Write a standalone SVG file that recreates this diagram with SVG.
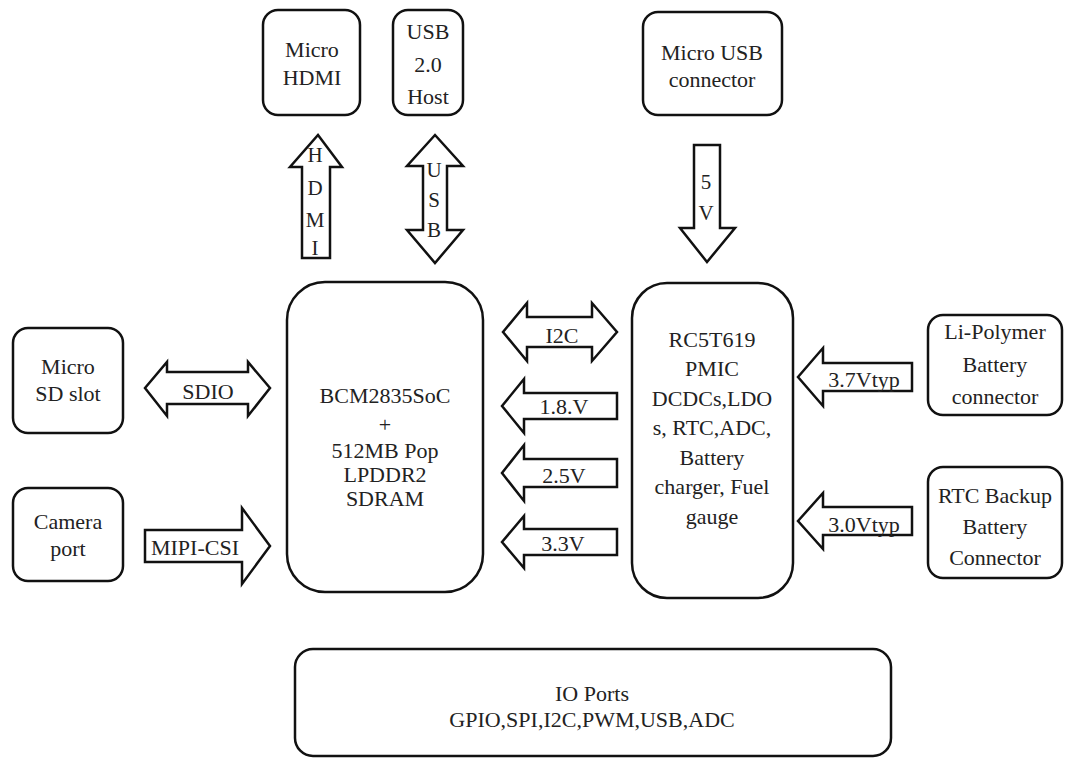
<svg xmlns="http://www.w3.org/2000/svg" width="1068" height="761" viewBox="0 0 1068 761">
<style>
.box{fill:#fff;stroke:#111;stroke-width:2.5}
.arrow{fill:#fff;stroke:#111;stroke-width:2.5;stroke-linejoin:miter}
.t{font-family:"Liberation Serif","Times New Roman",serif;font-size:22px;fill:#222;text-anchor:middle}
.s{font-size:21px}
</style>
<rect width="1068" height="761" fill="#fff"/>
<g id="connectors">
  <polygon class="arrow" points="318,135 342,167 330,167 330,258 302,258 302,167 290,167"/>
  <text class="t s" x="315" y="162">H</text>
  <text class="t s" x="315" y="195">D</text>
  <text class="t s" x="315" y="227">M</text>
  <text class="t s" x="315" y="255">I</text>
  <polygon class="arrow" points="435,135 463,166 447,166 447,230 463,230 435,263 407,230 423,230 423,166 407,166"/>
  <text class="t s" x="434" y="177">U</text>
  <text class="t s" x="434" y="207">S</text>
  <text class="t s" x="434" y="237">B</text>
  <polygon class="arrow" points="694,145 720,145 720,228 735,228 707,262 680,228 694,228"/>
  <text class="t s" x="706" y="189">5</text>
  <text class="t s" x="706" y="220">V</text>
  <polygon class="arrow" points="145,388 167,362 167,372 248,372 248,362 270,388 248,416 248,404 167,404 167,416"/>
  <text class="t" x="208" y="399">SDIO</text>
  <polygon class="arrow" points="145,530 242,530 242,508 270,546 242,584 242,562 145,562"/>
  <text class="t" x="195" y="555">MIPI-CSI</text>
  <polygon class="arrow" points="503,332 527,303 527,317 592,317 592,303 617,332 592,361 592,347 527,347 527,361"/>
  <text class="t" x="562" y="343">I2C</text>
  <polygon class="arrow" points="502,406 524,379 524,393 617,393 617,419 524,419 524,433"/>
  <text class="t" x="564" y="414">1.8.V</text>
  <polygon class="arrow" points="502,473 524,445 524,459 617,459 617,487 524,487 524,501"/>
  <text class="t" x="564" y="483">2.5V</text>
  <polygon class="arrow" points="502,542 524,516 524,529 617,529 617,555 524,555 524,568"/>
  <text class="t" x="563" y="551">3.3V</text>
  <polygon class="arrow" points="798,377 823,348 823,363 912,363 912,391 823,391 823,406"/>
  <text class="t" x="864" y="387">3.7Vtyp</text>
  <polygon class="arrow" points="798,521 823,493 823,507 912,507 912,535 823,535 823,549"/>
  <text class="t" x="864" y="532">3.0Vtyp</text>
</g>
<g id="micro-hdmi">
  <rect class="box" x="263" y="10" width="97" height="105" rx="15"/>
  <text class="t" x="312" y="57">Micro</text>
  <text class="t" x="312" y="85">HDMI</text>
</g>
<g id="usb-host">
  <rect class="box" x="393" y="10" width="70" height="105" rx="15"/>
  <text class="t" x="428" y="39">USB</text>
  <text class="t" x="428" y="72">2.0</text>
  <text class="t" x="428" y="104">Host</text>
</g>
<g id="micro-usb">
  <rect class="box" x="643" y="12" width="139" height="103" rx="15"/>
  <text class="t" x="712" y="60">Micro USB</text>
  <text class="t" x="712" y="87">connector</text>
</g>
<g id="micro-sd">
  <rect class="box" x="13" y="328" width="110" height="105" rx="15"/>
  <text class="t" x="68" y="374">Micro</text>
  <text class="t" x="68" y="401">SD slot</text>
</g>
<g id="camera">
  <rect class="box" x="13" y="488" width="110" height="93" rx="15"/>
  <text class="t" x="68" y="529">Camera</text>
  <text class="t" x="68" y="556">port</text>
</g>
<g id="bcm">
  <rect class="box" x="287" y="282" width="196" height="310" rx="38"/>
  <text class="t" x="385" y="403">BCM2835SoC</text>
  <text class="t" x="385" y="432">+</text>
  <text class="t" x="385" y="458">512MB Pop</text>
  <text class="t" x="385" y="482">LPDDR2</text>
  <text class="t" x="385" y="506">SDRAM</text>
</g>
<g id="pmic">
  <rect class="box" x="632" y="283" width="161" height="315" rx="35"/>
  <text class="t" x="712" y="347">RC5T619</text>
  <text class="t" x="712" y="376">PMIC</text>
  <text class="t" x="712" y="406">DCDCs,LDO</text>
  <text class="t" x="712" y="435">s, RTC,ADC,</text>
  <text class="t" x="712" y="465">Battery</text>
  <text class="t" x="712" y="494">charger, Fuel</text>
  <text class="t" x="712" y="524">gauge</text>
</g>
<g id="li-polymer">
  <rect class="box" x="928" y="315" width="134" height="100" rx="15"/>
  <text class="t" x="995" y="339">Li-Polymer</text>
  <text class="t" x="995" y="372">Battery</text>
  <text class="t" x="995" y="404">connector</text>
</g>
<g id="rtc-backup">
  <rect class="box" x="928" y="467" width="134" height="111" rx="15"/>
  <text class="t" x="995" y="503">RTC Backup</text>
  <text class="t" x="995" y="534">Battery</text>
  <text class="t" x="995" y="565">Connector</text>
</g>
<g id="io-ports">
  <rect class="box" x="295" y="649" width="596" height="107" rx="18"/>
  <text class="t" x="592" y="701">IO Ports</text>
  <text class="t" x="592" y="727">GPIO,SPI,I2C,PWM,USB,ADC</text>
</g>
</svg>
